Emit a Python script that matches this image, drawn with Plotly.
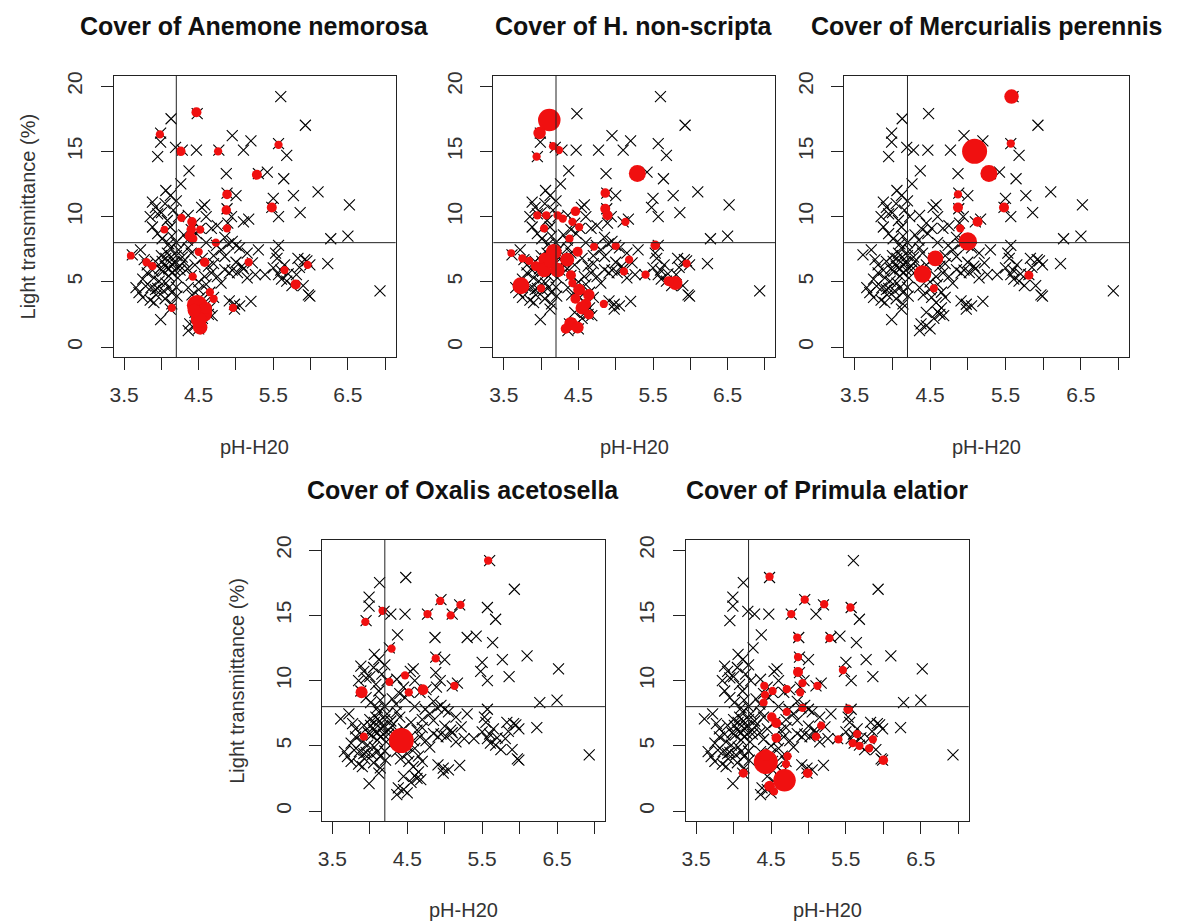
import plotly.graph_objects as go

# ---------------- data ----------------
# all sites: soil pH (H2O) and light transmittance (%)
site_ph = [4.48, 4.13, 5.93, 3.99, 3.99, 3.95, 4.19, 4.28, 4.47, 4.77, 4.95, 5.20, 5.10, 5.57, 5.68, 5.60,
           4.37, 4.87, 5.42, 5.30, 5.64, 4.26, 6.10, 5.77, 5.50, 5.00, 4.88, 6.52, 4.58, 5.48, 5.86, 5.57,
           5.17, 4.88, 6.27, 6.50, 5.10,
           4.06, 4.12, 3.88, 3.92, 3.95, 3.88, 4.23, 4.36, 4.54, 4.60, 4.45, 4.52, 4.47, 4.08, 4.12, 3.95,
           4.01, 4.14, 4.30, 4.67, 4.74, 4.80, 4.36, 4.89, 4.94, 4.00, 4.16, 3.85, 4.05, 4.20, 4.40, 4.35,
           4.75, 4.85, 4.95, 5.00, 4.60, 4.90,
           3.61, 3.72, 3.77, 3.81, 3.92, 4.01, 4.06, 4.10, 4.14, 4.23, 4.28, 4.30, 4.05, 4.10, 4.15, 4.18,
           4.08, 4.12, 4.20, 4.02, 4.13, 4.17, 3.98, 4.00, 4.10, 4.20,
           3.66, 3.70, 3.75, 3.79, 3.86, 3.92, 3.90, 3.97, 3.81, 4.06, 4.10, 4.14, 4.14, 4.12, 3.99, 4.21,
           3.85, 3.90, 3.95, 3.88, 3.75, 3.93, 4.03, 4.05, 4.20, 4.22, 4.25, 4.25,
           4.36, 4.41, 4.52, 4.58, 4.65, 4.63, 4.45, 4.38, 4.45, 4.50, 4.36, 4.55, 4.60, 4.68, 4.70, 4.65,
           4.80, 4.67, 4.63, 4.85, 4.91, 4.91, 4.98, 5.05, 4.85, 4.40, 4.50, 4.55, 4.45, 4.40, 4.70, 4.58,
           4.35, 4.50, 4.60, 4.75, 4.70,
           5.30, 5.53, 5.55, 5.83, 5.92, 5.99, 6.23, 5.22, 5.08, 5.02, 4.95, 5.26, 5.39, 5.50, 5.57, 5.61,
           5.68, 5.75, 5.81, 5.90, 5.97, 5.99, 6.93, 5.20, 4.98, 5.57, 5.00, 5.10, 5.15, 5.60, 5.65, 5.70,
           5.85, 5.95, 5.05, 5.15]
site_light = [17.9, 17.5, 17.0, 16.4, 15.7, 14.6, 15.3, 15.1, 15.1, 15.1, 16.2, 15.8, 15.1, 15.6, 14.7, 19.2,
              13.5, 13.3, 13.4, 13.3, 12.9, 12.5, 11.9, 11.6, 11.4, 11.6, 11.8, 10.9, 10.9, 10.7, 10.3, 10.0,
              9.8, 10.6, 8.3, 8.5, 9.6,
              12.0, 11.6, 11.1, 10.7, 10.2, 9.2, 10.0, 10.1, 10.7, 10.0, 9.5, 9.1, 8.7, 9.7, 9.2, 8.7,
              8.3, 8.5, 8.6, 9.1, 7.8, 7.45, 7.6, 9.5, 10.0, 10.3, 10.5, 10.0, 11.0, 11.2, 9.0, 8.2,
              9.3, 8.4, 8.1, 7.8, 8.0, 7.9,
              7.07, 7.45, 6.7, 6.3, 6.56, 6.56, 6.8, 5.43, 5.68, 7.45, 6.9, 6.56, 6.2, 6.0, 6.3, 5.9,
              7.2, 7.6, 7.0, 5.8, 6.9, 6.5, 6.0, 7.0, 7.9, 8.0,
              4.55, 4.17, 3.8, 4.67, 4.55, 4.4, 5.3, 5.05, 5.68, 4.9, 4.55, 4.17, 3.3, 2.9, 2.1, 3.9,
              3.6, 3.4, 4.5, 5.9, 5.2, 4.0, 4.3, 3.7, 4.6, 5.3, 5.9, 6.2,
              4.55, 4.0, 3.8, 3.4, 3.0, 2.5, 2.65, 1.77, 1.64, 1.39, 1.26, 2.2, 2.7, 2.4, 3.8, 4.2,
              4.9, 5.68, 6.2, 5.93, 5.68, 3.54, 3.28, 3.16, 6.94, 5.5, 5.0, 6.8, 6.3, 7.2, 7.0, 5.4,
              6.0, 4.4, 4.8, 5.4, 6.4,
              7.45, 7.2, 6.8, 6.8, 6.7, 6.3, 6.4, 6.45, 6.2, 5.7, 5.9, 5.55, 5.55, 6.06, 5.55, 5.2,
              5.05, 4.7, 5.55, 4.7, 4.0, 3.9, 4.3, 3.5, 2.9, 7.8, 6.5, 6.0, 5.3, 5.9, 6.3, 5.6,
              6.1, 6.6, 7.6, 7.2]

# species cover (%) at sites where the species occurs
anemone_ph = [4.47, 3.98, 4.26, 4.76, 5.57, 5.28, 4.88, 4.87, 5.48, 4.27, 4.04, 4.41, 4.40, 4.38, 4.42,
              4.52, 4.88, 4.73, 4.50, 4.58, 5.17, 3.59, 3.80, 3.88, 4.42, 5.65, 5.80, 5.96, 4.65, 4.70,
              4.96, 4.14, 4.48, 4.56, 4.52, 4.50, 4.60, 4.44]
anemone_light = [18.0, 16.3, 15.0, 15.0, 15.5, 13.2, 11.7, 10.5, 10.7, 9.9, 9.0, 9.6, 9.0, 8.5, 8.3,
                 9.0, 9.1, 8.0, 7.3, 6.5, 6.5, 7.0, 6.5, 6.2, 5.4, 5.9, 4.8, 6.3, 4.2, 3.7,
                 3.0, 3.0, 3.2, 2.6, 1.5, 2.1, 3.0, 2.8]
anemone_cover = [12, 5, 10, 5, 5, 12, 10, 10, 12, 5, 3, 10, 10, 12, 10,
                 5, 5, 5, 5, 10, 5, 3, 5, 5, 5, 5, 12, 5, 5, 5,
                 5, 5, 55, 45, 30, 35, 20, 25]

hyacinth_ph = [4.11, 3.98, 3.94, 4.16, 4.24, 5.29, 4.86, 4.86, 4.89, 4.46, 5.13, 3.95, 4.07, 4.22, 4.29,
               4.04, 4.42, 4.51, 4.38, 3.60, 3.75, 3.84, 3.73, 3.93, 4.06, 4.17, 4.04, 4.22, 4.13, 4.35,
               4.49, 4.00, 4.40, 4.42, 4.51, 4.64, 4.46, 4.60, 4.55, 4.64, 4.40, 4.49, 4.33, 4.84, 4.71,
               5.00, 5.18, 5.11, 5.40, 5.53, 5.80, 5.71, 5.95]
hyacinth_light = [17.4, 16.4, 14.6, 15.4, 15.1, 13.3, 11.8, 10.6, 10.1, 10.4, 9.6, 10.1, 10.1, 10.1, 9.85,
                  9.1, 9.6, 9.2, 8.3, 7.2, 6.8, 6.6, 4.7, 6.2, 6.7, 7.3, 5.9, 5.9, 6.6, 6.7,
                  7.3, 4.5, 5.5, 4.9, 4.4, 4.0, 3.7, 3.3, 3.0, 2.5, 1.8, 1.5, 1.4, 3.3, 7.7,
                  7.75, 6.7, 5.8, 5.55, 7.8, 4.9, 5.05, 6.4]
hyacinth_cover = [62, 22, 5, 5, 5, 40, 10, 12, 12, 10, 5, 5, 5, 5, 5,
                  5, 5, 5, 5, 3, 5, 5, 40, 12, 30, 35, 30, 30, 28, 28,
                  12, 5, 12, 5, 20, 18, 12, 15, 25, 12, 25, 20, 12, 5, 5,
                  5, 5, 5, 5, 10, 28, 12, 5]

mercurialis_ph = [5.58, 5.09, 5.28, 5.57, 4.87, 4.87, 5.48, 5.13, 4.90, 5.00, 4.57, 4.40, 4.55, 5.81]
mercurialis_light = [19.2, 15.0, 13.3, 15.6, 11.7, 10.7, 10.7, 9.6, 9.1, 8.1, 6.8, 5.6, 4.5, 5.5]
mercurialis_cover = [30, 72, 40, 5, 5, 12, 12, 12, 5, 45, 35, 42, 5, 8]

oxalis_ph = [5.58, 3.94, 4.17, 4.29, 4.47, 4.26, 3.89, 4.52, 4.71, 4.77, 4.94, 5.08, 5.21, 4.88, 5.13,
             3.92, 4.42]
oxalis_light = [19.2, 14.5, 15.35, 12.45, 10.4, 9.9, 9.1, 9.1, 9.3, 15.1, 16.1, 15.0, 15.8, 11.7, 9.6,
                5.7, 5.4]
oxalis_cover = [5, 5, 5, 5, 5, 5, 20, 5, 15, 5, 5, 5, 5, 5, 5,
                5, 72]

primula_ph = [4.48, 4.95, 5.21, 4.77, 5.56, 4.85, 5.28, 4.86, 4.86, 4.92, 4.89, 5.12, 5.46, 4.41, 4.42,
              4.40, 4.52, 4.71, 4.71, 4.92, 5.53, 4.51, 4.57, 4.57, 5.17, 5.10, 5.40, 5.65, 5.59, 5.68,
              5.81, 5.86, 6.00, 4.13, 4.72, 4.70, 4.99, 4.43, 4.68, 4.48, 4.54, 4.43]
primula_light = [17.96, 16.2, 15.85, 15.1, 15.6, 13.3, 13.25, 11.8, 10.65, 9.8, 9.1, 9.6, 10.8, 9.6, 8.9,
                 8.3, 9.2, 9.35, 7.6, 7.9, 7.8, 7.2, 6.75, 5.6, 6.55, 5.7, 5.5, 5.9, 5.2, 5.0,
                 4.8, 5.5, 3.9, 2.9, 4.2, 3.6, 2.9, 3.75, 2.35, 1.9, 1.5, 4.3]
primula_cover = [5, 5, 5, 5, 5, 5, 5, 5, 12, 5, 5, 5, 5, 5, 5,
                 5, 5, 5, 5, 5, 10, 10, 12, 10, 5, 5, 5, 5, 5, 5,
                 5, 5, 10, 8, 5, 5, 10, 68, 62, 15, 5, 20]

titles = ["Cover of Anemone nemorosa", "Cover of H. non-scripta", "Cover of Mercurialis perennis",
          "Cover of Oxalis acetosella", "Cover of Primula elatior"]
x_tick_values = [3.5, 4.0, 4.5, 5.0, 5.5, 6.0, 6.5, 7.0]
x_tick_labels = ["3.5", "", "4.5", "", "5.5", "", "6.5", ""]
y_tick_values = [0, 5, 10, 15, 20]
ph_threshold = 4.2
light_threshold = 8
x_title = "pH-H20"
y_title = "Light transmittance (%)"

species = [
    (anemone_ph, anemone_light, anemone_cover),
    (hyacinth_ph, hyacinth_light, hyacinth_cover),
    (mercurialis_ph, mercurialis_light, mercurialis_cover),
    (oxalis_ph, oxalis_light, oxalis_cover),
    (primula_ph, primula_light, primula_cover),
]

# ---------------- layout (pixel boxes) ----------------
W, H = 1178, 924
boxes = [  # left, right, top, bottom in px
    (110, 393, 72, 355),
    (491, 774, 72, 355),
    (843, 1129, 72, 355),
    (319, 603, 538, 821),
    (684, 968, 538, 821),
]
title_y = [22, 22, 22, 488, 488]
xtitle_y = [445, 445, 445, 910, 910]
show_ytitle = [True, False, False, True, False]

FONT = "Liberation Sans, Arial, sans-serif"
fig = go.Figure()
annotations = []
shapes = []

for i, ((sp_ph, sp_light, sp_cover), (l, r, t, b)) in enumerate(zip(species, boxes)):
    n = "" if i == 0 else str(i + 1)
    xa, ya = "x" + n, "y" + n
    fig.add_trace(go.Scatter(
        x=site_ph, y=site_light, mode="markers", xaxis=xa, yaxis=ya, showlegend=False,
        marker=dict(symbol="x-thin", size=11, opacity=1, line=dict(color="black", width=1.1)),
        hoverinfo="skip"))
    fig.add_trace(go.Scatter(
        x=sp_ph, y=sp_light, mode="markers", xaxis=xa, yaxis=ya, showlegend=False,
        marker=dict(symbol="circle", color="#f01010", opacity=1,
                    size=[7 + 0.25 * c for c in sp_cover], line=dict(width=0)),
        hoverinfo="skip"))
    axis_common = dict(showgrid=False, zeroline=False, showline=True, mirror=True,
                       linecolor="#222", linewidth=1, ticks="outside", ticklen=12,
                       tickcolor="#222", tickwidth=1,
                       tickfont=dict(family=FONT, size=21, color="#333"))
    fig.layout["xaxis" + n] = dict(
        axis_common, domain=[l / W, r / W], range=[3.36, 7.14], anchor=ya,
        tickmode="array", tickvals=x_tick_values, ticktext=x_tick_labels,
        ticklabelstandoff=6)
    fig.layout["yaxis" + n] = dict(
        axis_common, domain=[1 - b / H, 1 - t / H], range=[-0.8, 20.8], anchor=xa,
        tickmode="array", tickvals=y_tick_values, tickangle=-90,
        ticklabelstandoff=10)
    shapes.append(dict(type="line", xref=xa, yref=ya + " domain", x0=ph_threshold, x1=ph_threshold,
                       y0=0, y1=1, line=dict(color="#222", width=1)))
    shapes.append(dict(type="line", xref=xa + " domain", yref=ya, x0=0, x1=1,
                       y0=light_threshold, y1=light_threshold, line=dict(color="#222", width=1)))
    cx = (l + r) / 2 / W
    annotations.append(dict(text="<b>" + titles[i] + "</b>", xref="paper", yref="paper",
                            x=cx, y=1 - title_y[i] / H, xanchor="center", yanchor="middle",
                            showarrow=False, font=dict(family=FONT, size=25, color="#111")))
    annotations.append(dict(text=x_title, xref="paper", yref="paper",
                            x=cx, y=1 - xtitle_y[i] / H, xanchor="center", yanchor="middle",
                            showarrow=False, font=dict(family=FONT, size=20, color="#333")))
    if show_ytitle[i]:
        annotations.append(dict(text=y_title, xref="paper", yref="paper",
                                x=(l - 86) / W, y=1 - (t + b) / 2 / H, xanchor="center",
                                yanchor="middle", textangle=-90, showarrow=False,
                                font=dict(family=FONT, size=20, color="#333")))

fig.update_layout(width=W, height=H, margin=dict(l=0, r=0, t=0, b=0),
                  paper_bgcolor="white", plot_bgcolor="white",
                  annotations=annotations, shapes=shapes)

fig.write_html("out.html", config={"displayModeBar": False},
               post_script="document.body.style.margin='0';")
